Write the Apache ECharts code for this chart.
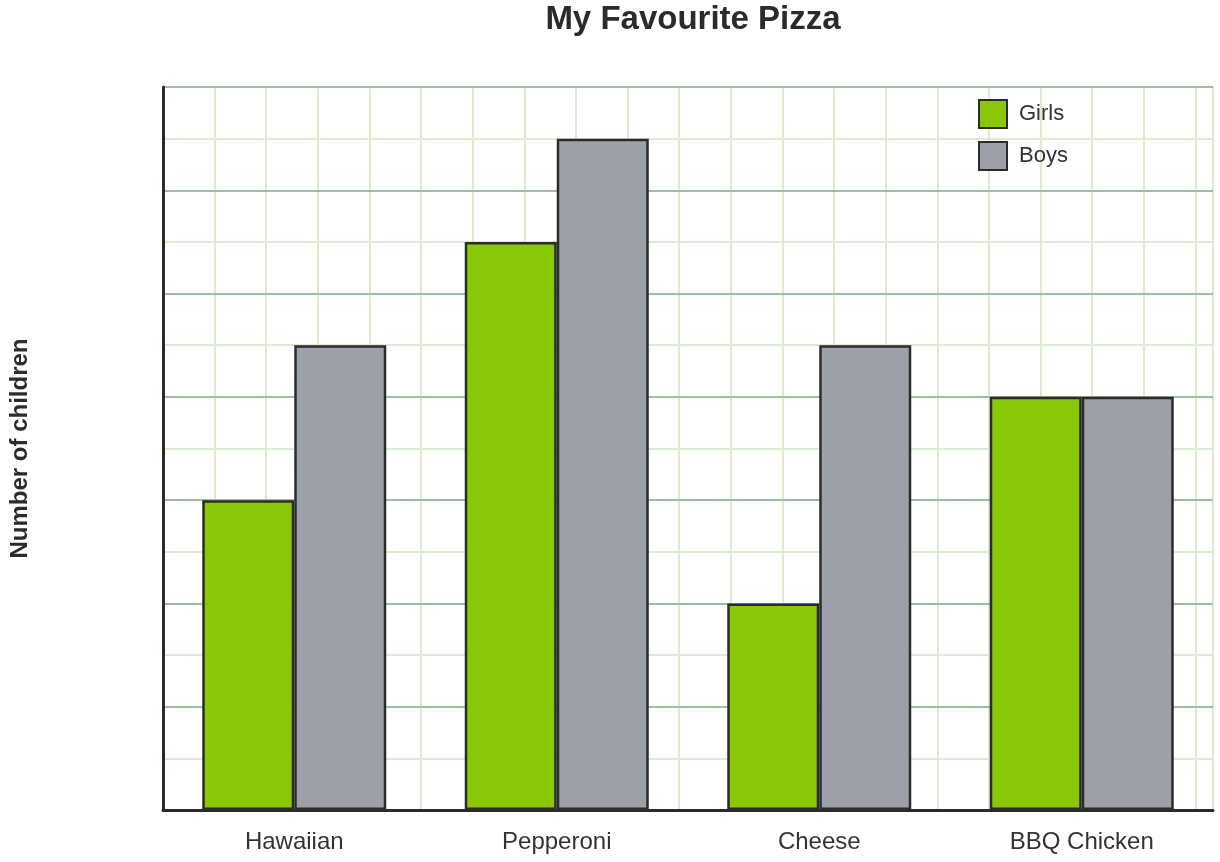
<!DOCTYPE html>
<html>
<head>
<meta charset="utf-8">
<script src="https://cdn.jsdelivr.net/npm/echarts@6/dist/echarts.min.js"></script>
<style>html,body{margin:0;padding:0;background:#fff;}#c{width:1220px;height:862px;}</style>
</head>
<body>
<div id="c"></div>
<script>
const categories = ['Hawaiian', 'Pepperoni', 'Cheese', 'BBQ Chicken'];
const girls = [6, 11, 4, 8];
const boys = [9, 13, 9, 8];

const chart = echarts.init(document.getElementById('c'), null, {renderer: 'canvas'});
const font = 'Liberation Sans, Arial, sans-serif';
chart.setOption({
  animation: false,
  title: {
    text: 'My Favourite Pizza',
    left: 688, top: -2, textAlign: 'center',
    textStyle: {fontFamily: font, fontSize: 33, fontWeight: 'bold', color: '#2b2b2b'}
  },
  legend: {
    orient: 'vertical', left: 978, top: 99, padding: 0,
    itemWidth: 28, itemHeight: 28, itemGap: 12, icon: 'rect',
    textStyle: {fontFamily: font, fontSize: 22, color: '#333', padding: [0, 0, 0, 7]},
    data: ['Girls', 'Boys']
  },
  grid: {left: 161, right: 7, top: 87, bottom: 52},
  xAxis: [{
    type: 'category', data: categories,
    axisLine: {lineStyle: {color: '#2b2b2b', width: 3}},
    axisTick: {show: false},
    axisLabel: {fontFamily: font, fontSize: 24, color: '#333', margin: 20},
    splitLine: {show: false},
    z: 5
  }, {
    type: 'value', min: 0, max: 20.34, interval: 1, show: true,
    position: 'top',
    axisLine: {show: false}, axisTick: {show: false}, axisLabel: {show: false},
    splitLine: {show: true, lineStyle: {color: '#dcebd2', width: 2}}
  }],
  yAxis: {
    type: 'value', min: 0, max: 14, interval: 2,
    name: 'Number of children', nameLocation: 'middle', nameGap: 131,
    nameTextStyle: {fontFamily: font, fontSize: 24, fontWeight: 'bold', color: '#2b2b2b'},
    axisLine: {show: true, lineStyle: {color: '#2b2b2b', width: 3}},
    axisTick: {show: false},
    axisLabel: {show: false},
    splitLine: {show: true, lineStyle: {color: '#9cc09c', width: 2}},
    minorTick: {show: false, splitNumber: 2},
    minorSplitLine: {show: true, lineStyle: {color: '#dcebd2', width: 2}},
    z: 1
  },
  series: [{
    name: 'Girls', type: 'bar', data: girls, barWidth: 92, barGap: '0%', z: 3,
    itemStyle: {color: '#8ac707', borderColor: '#2b2b2b', borderWidth: 2.5}
  }, {
    name: 'Boys', type: 'bar', data: boys, barWidth: 92, barGap: '0%', z: 3,
    itemStyle: {color: '#9ca0a8', borderColor: '#2b2b2b', borderWidth: 2.5}
  }]
});
</script>
</body>
</html>
